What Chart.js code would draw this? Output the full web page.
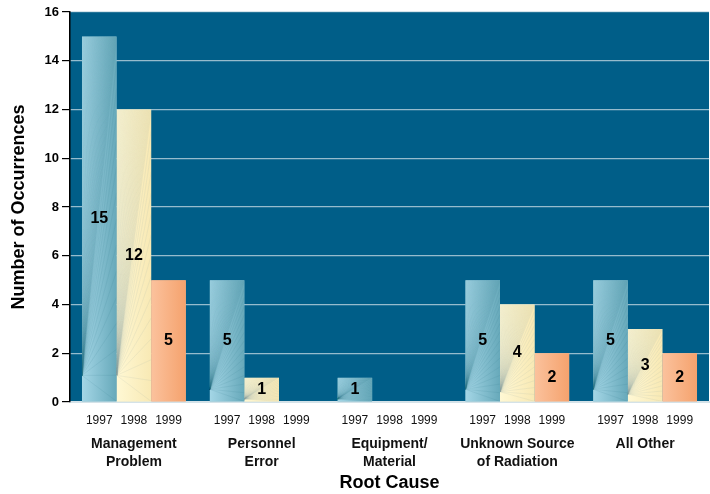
<!DOCTYPE html>
<html>
<head>
<meta charset="utf-8">
<script src="https://cdn.jsdelivr.net/npm/chart.js@4"></script>
<style>
  body { margin: 0; background: #fff; }
  #wrap { width: 710px; height: 494px; }
</style>
</head>
<body>
<div id="wrap"><canvas id="rootCauseChart" width="710" height="494"></canvas></div>
<script>
// data
const causes = [['Management', 'Problem'], ['Personnel', 'Error'], ['Equipment/', 'Material'], ['Unknown Source', 'of Radiation'], ['All Other']];
const years = ['1997', '1998', '1999'];
const counts1997 = [15, 5, 1, 5, 5];
const counts1998 = [12, 1, 0, 4, 3];
const counts1999 = [5, 0, 0, 2, 2];
const yMax = 16;
const yStep = 2;

// base colour, light side, dark side, fan line colour
const palette = [
  ['#84bfd0', '#a4d6e6', '#67a9ba', 'rgba(50,120,140,0.22)'],
  ['#fbf1c2', '#fff8d4', '#f8e9b4', 'rgba(140,170,165,0.25)'],
  ['#f8b386', '#fbc29d', '#f5a26d', 'rgba(240,150,100,0)']
];

const plotBackground = {
  id: 'plotBackground',
  beforeDraw(chart) {
    const { ctx, chartArea: a } = chart;
    ctx.save();
    ctx.fillStyle = '#005e88';
    ctx.fillRect(a.left, a.top, a.right - a.left, a.bottom - a.top);
    ctx.restore();
  }
};

const barTexture = {
  id: 'barTexture',
  afterDatasetsDraw(chart) {
    const ctx = chart.ctx;
    chart.data.datasets.forEach((ds, di) => {
      const meta = chart.getDatasetMeta(di);
      const col = palette[di];
      meta.data.forEach(bar => {
        const left = bar.x - bar.width / 2, right = bar.x + bar.width / 2;
        const top = bar.y, bottom = bar.base;
        if (bottom - top < 1) return;
        ctx.save();
        ctx.beginPath();
        ctx.rect(left, top, right - left, bottom - top);
        ctx.clip();
        const g = ctx.createLinearGradient(left, 0, right, 0);
        g.addColorStop(0, col[1]);
        g.addColorStop(1, col[2]);
        ctx.fillStyle = g;
        ctx.fillRect(left, top, right - left, bottom - top);
        // fan of thin lines from near the bottom left corner
        const ox = left, oy = bottom - Math.min(26, (bottom - top) * 0.1);
        ctx.strokeStyle = col[3];
        ctx.lineWidth = 0.5;
        for (let i = 0; i <= 30; i++) {
          ctx.beginPath();
          ctx.moveTo(ox, oy);
          ctx.lineTo(left + (right - left) * i / 30, top);
          ctx.stroke();
        }
        for (let i = 1; i <= 14; i++) {
          ctx.beginPath();
          ctx.moveTo(ox, oy);
          ctx.lineTo(right, top + (bottom - top) * i / 14);
          ctx.stroke();
        }
        ctx.restore();
      });
    });
  }
};

const barLabels = {
  id: 'barLabels',
  afterDatasetsDraw(chart) {
    const ctx = chart.ctx;
    const a = chart.chartArea;
    ctx.save();
    ctx.textAlign = 'center';
    ctx.textBaseline = 'middle';
    chart.data.datasets.forEach((ds, di) => {
      chart.getDatasetMeta(di).data.forEach((bar, i) => {
        const v = ds.data[i];
        if (v > 0) {
          ctx.font = 'bold 16px "Liberation Sans", Arial, sans-serif';
          ctx.fillStyle = '#000';
          ctx.fillText(String(v), bar.x, (bar.y + bar.base) / 2);
        }
        ctx.font = '12px "Liberation Sans", Arial, sans-serif';
        ctx.fillStyle = '#111';
        ctx.fillText(ds.label, bar.x, a.bottom + 19);
      });
    });
    ctx.restore();
  }
};

new Chart(document.getElementById('rootCauseChart'), {
  type: 'bar',
  data: {
    labels: causes,
    datasets: [
      { label: years[0], data: counts1997, backgroundColor: palette[0][0] },
      { label: years[1], data: counts1998, backgroundColor: palette[1][0] },
      { label: years[2], data: counts1999, backgroundColor: palette[2][0] }
    ]
  },
  options: {
    responsive: false,
    animation: false,
    devicePixelRatio: 1,
    layout: { padding: { top: 12, right: 1, left: 0, bottom: 0 } },
    datasets: { bar: { barPercentage: 1, categoryPercentage: 0.8125, borderWidth: 0 } },
    plugins: {
      legend: { display: false },
      tooltip: { enabled: false }
    },
    scales: {
      x: {
        grid: { display: false, drawTicks: false },
        border: { color: '#d4e2e8', width: 2 },
        ticks: {
          color: '#111',
          font: { family: '"Liberation Sans", Arial, sans-serif', size: 14, weight: 'bold', lineHeight: 1.3 },
          padding: 33,
          maxRotation: 0,
          autoSkip: false
        },
        title: {
          display: true,
          text: 'Root Cause',
          color: '#000',
          font: { family: '"Liberation Sans", Arial, sans-serif', size: 18, weight: 'bold' },
          padding: { top: 0, bottom: 0 }
        },
        afterFit(scale) { scale.height = 92; }
      },
      y: {
        min: 0,
        max: yMax,
        grid: { color: 'rgba(200,220,228,0.75)', tickColor: '#000', tickLength: 8, lineWidth: 1.2 },
        border: { color: '#000', width: 1.5 },
        ticks: {
          stepSize: yStep,
          color: '#000',
          padding: 3,
          font: { family: '"Liberation Sans", Arial, sans-serif', size: 13, weight: 'bold' }
        },
        title: {
          display: true,
          text: 'Number of Occurrences',
          color: '#000',
          font: { family: '"Liberation Sans", Arial, sans-serif', size: 18, weight: 'bold' },
          padding: { top: 8, bottom: 4 }
        },
        afterFit(scale) { scale.width = 70; }
      }
    }
  },
  plugins: [plotBackground, barTexture, barLabels]
});
</script>
</body>
</html>
